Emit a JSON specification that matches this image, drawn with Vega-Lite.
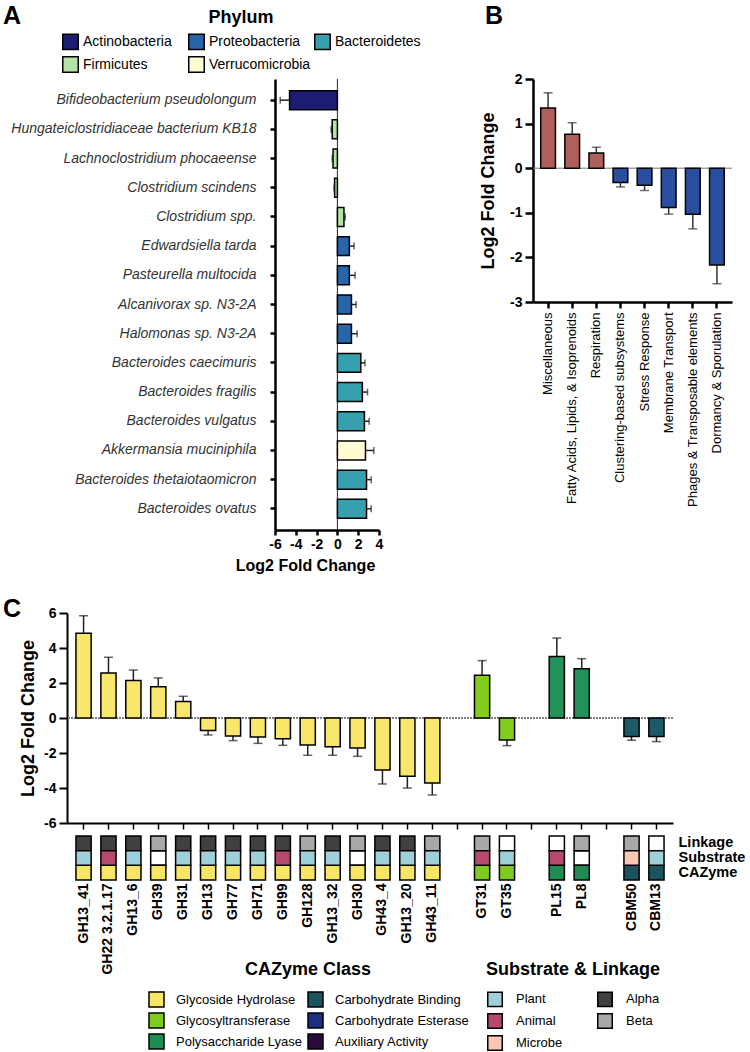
{
  "$schema": "https://vega.github.io/schema/vega-lite/v6.json",
  "padding": {"left": 3, "top": 4, "right": 0, "bottom": 0},
  "spacing": 0,
  "config": {
    "view": {"stroke": null},
    "font": "Liberation Sans",
    "axis": {"grid": false, "domainColor": "black", "tickColor": "black", "labelColor": "black", "titleColor": "black", "labelFont": "Liberation Sans", "titleFont": "Liberation Sans", "labelFlush": false, "labelOverlap": false, "labelBound": false},
    "legend": {"labelFont": "Liberation Sans", "titleFont": "Liberation Sans", "labelColor": "black", "titleColor": "black"},
    "title": {"font": "Liberation Sans", "color": "black"}
  },
  "resolve": {"scale": {"color": "independent", "fill": "independent"}, "legend": {"color": "independent", "fill": "independent"}},
  "vconcat": [
    {
      "bounds": "flush",
      "spacing": 154,
      "resolve": {"scale": {"color": "independent"}, "legend": {"color": "independent"}},
      "hconcat": [
        {
          "width": 54,
          "height": 518,
          "title": {"text": "A", "anchor": "start", "frame": "group", "fontSize": 25, "fontWeight": "bold", "dx": -64, "offset": 50},
          "data": {"values": [{}]},
          "mark": {"type": "point", "opacity": 0},
          "encoding": {}
        },
        {
          "width": 104,
          "height": 451,
          "data": {"values": [
            {"taxon": "Bifideobacterium pseudolongum", "phylum": "Actinobacteria", "lfc": -4.6, "hi": -5.5},
            {"taxon": "Hungateiclostridiaceae bacterium KB18", "phylum": "Firmicutes", "lfc": -0.5, "hi": -0.6},
            {"taxon": "Lachnoclostridium phocaeense", "phylum": "Firmicutes", "lfc": -0.42, "hi": -0.5},
            {"taxon": "Clostridium scindens", "phylum": "Firmicutes", "lfc": -0.27, "hi": -0.32},
            {"taxon": "Clostridium spp.", "phylum": "Firmicutes", "lfc": 0.63, "hi": 0.75},
            {"taxon": "Edwardsiella tarda", "phylum": "Proteobacteria", "lfc": 1.15, "hi": 1.6},
            {"taxon": "Pasteurella multocida", "phylum": "Proteobacteria", "lfc": 1.15, "hi": 1.7},
            {"taxon": "Alcanivorax sp. N3-2A", "phylum": "Proteobacteria", "lfc": 1.35, "hi": 1.8},
            {"taxon": "Halomonas sp. N3-2A", "phylum": "Proteobacteria", "lfc": 1.35, "hi": 1.9},
            {"taxon": "Bacteroides caecimuris", "phylum": "Bacteroidetes", "lfc": 2.25, "hi": 2.65},
            {"taxon": "Bacteroides fragilis", "phylum": "Bacteroidetes", "lfc": 2.4, "hi": 2.9},
            {"taxon": "Bacteroides vulgatus", "phylum": "Bacteroidetes", "lfc": 2.6, "hi": 3.05},
            {"taxon": "Akkermansia muciniphila", "phylum": "Verrucomicrobia", "lfc": 2.7, "hi": 3.5},
            {"taxon": "Bacteroides thetaiotaomicron", "phylum": "Bacteroidetes", "lfc": 2.8, "hi": 3.25},
            {"taxon": "Bacteroides ovatus", "phylum": "Bacteroidetes", "lfc": 2.8, "hi": 3.25}
          ]},
          "layer": [
            {
              "data": {"values": [{"ref": 0}]},
              "mark": {"type": "rule", "color": "#222", "strokeWidth": 1},
              "encoding": {"x": {"field": "ref", "type": "quantitative", "scale": {"domain": [-6, 4], "nice": false}, "axis": {"title": "Log2 Fold Change", "values": [-6, -4, -2, 0, 2, 4], "labelExpr": "toString(datum.value)", "labelFontSize": 14, "labelFontWeight": "bold", "titleFontSize": 16, "titleFontWeight": "bold", "tickSize": 5, "tickWidth": 2.5, "domainWidth": 2.5, "labelPadding": 2, "titlePadding": 6, "titleX": 30}}}
            },
            {
              "mark": {"type": "rule", "color": "#222", "strokeWidth": 1.5},
              "encoding": {
                "y": {"field": "taxon", "type": "nominal", "sort": null, "scale": {"paddingInner": 0.35, "paddingOuter": 0.4}, "axis": {"title": null, "labelFontSize": 14, "labelFontStyle": "italic", "labelColor": "#333", "labelPadding": 14, "tickSize": 5, "tickWidth": 2.5, "domainWidth": 2.5, "labelLimit": 0}},
                "x": {"field": "lfc", "type": "quantitative", "scale": {"domain": [-6, 4], "nice": false}, "axis": {"title": "Log2 Fold Change", "values": [-6, -4, -2, 0, 2, 4], "labelExpr": "toString(datum.value)", "labelFontSize": 14, "labelFontWeight": "bold", "titleFontSize": 16, "titleFontWeight": "bold", "tickSize": 5, "tickWidth": 2.5, "domainWidth": 2.5, "labelPadding": 2, "titlePadding": 6, "titleX": 30}},
                "x2": {"field": "hi"}
              }
            },
            {
              "mark": {"type": "bar", "stroke": "black", "strokeWidth": 1.5},
              "encoding": {
                "y": {"field": "taxon", "type": "nominal", "sort": null},
                "x": {"field": "lfc", "type": "quantitative", "scale": {"domain": [-6, 4], "nice": false}, "axis": {"title": "Log2 Fold Change", "values": [-6, -4, -2, 0, 2, 4], "labelExpr": "toString(datum.value)", "labelFontSize": 14, "labelFontWeight": "bold", "titleFontSize": 16, "titleFontWeight": "bold", "tickSize": 5, "tickWidth": 2.5, "domainWidth": 2.5, "labelPadding": 2, "titlePadding": 6, "titleX": 30}},
                "color": {"field": "phylum", "type": "nominal",
                  "scale": {"domain": ["Actinobacteria", "Firmicutes", "Proteobacteria", "Verrucomicrobia", "Bacteroidetes"], "range": ["#1c1c72", "#b5e3a5", "#2765ab", "#fdfcd2", "#36a0ae"]},
                  "legend": {"title": "Phylum", "orient": "none", "legendX": -213, "legendY": -70, "columns": 3, "gridAlign": "all", "columnPadding": 0, "rowPadding": 0, "titleFontSize": 18, "titleFontWeight": "bold", "titleAnchor": "middle", "titlePadding": 6, "labelFontSize": 14, "labelOffset": 4, "labelLimit": 0, "symbolType": "square", "symbolSize": 240, "symbolStrokeColor": "black", "symbolStrokeWidth": 1.5}}
              }
            },
            {
              "mark": {"type": "tick", "color": "#222", "thickness": 1.5, "size": 7},
              "encoding": {
                "y": {"field": "taxon", "type": "nominal", "sort": null},
                "x": {"field": "hi", "type": "quantitative", "scale": {"domain": [-6, 4], "nice": false}, "axis": {"title": "Log2 Fold Change", "values": [-6, -4, -2, 0, 2, 4], "labelExpr": "toString(datum.value)", "labelFontSize": 14, "labelFontWeight": "bold", "titleFontSize": 16, "titleFontWeight": "bold", "tickSize": 5, "tickWidth": 2.5, "domainWidth": 2.5, "labelPadding": 2, "titlePadding": 6, "titleX": 30}}
              }
            }
          ]
        },
        {
          "width": 199,
          "height": 223,
          "title": {"text": "B", "anchor": "start", "frame": "group", "fontSize": 25, "fontWeight": "bold", "dx": -48, "offset": 43},
          "data": {"values": [
            {"cat": "Miscellaneous", "dir": "up", "lfc": 1.35, "hi": 1.69},
            {"cat": "Fatty Acids, Lipids, & Isoprenoids", "dir": "up", "lfc": 0.76, "hi": 1.02},
            {"cat": "Respiration", "dir": "up", "lfc": 0.34, "hi": 0.47},
            {"cat": "Clustering-based subsystems", "dir": "down", "lfc": -0.32, "hi": -0.42},
            {"cat": "Stress Response", "dir": "down", "lfc": -0.38, "hi": -0.5},
            {"cat": "Membrane Transport", "dir": "down", "lfc": -0.88, "hi": -1.03},
            {"cat": "Phages & Transposable elements", "dir": "down", "lfc": -1.03, "hi": -1.36},
            {"cat": "Dormancy & Sporulation", "dir": "down", "lfc": -2.17, "hi": -2.59}
          ]},
          "layer": [
            {
              "data": {"values": [{"ref": 0}]},
              "mark": {"type": "rule", "color": "#777", "strokeWidth": 1},
              "encoding": {"y": {"field": "ref", "type": "quantitative", "scale": {"domain": [-3, 2], "nice": false}, "axis": {"title": "Log2 Fold Change", "values": [-3, -2, -1, 0, 1, 2], "labelExpr": "toString(datum.value)", "labelFontSize": 14, "labelFontWeight": "bold", "titleFontSize": 18, "titleFontWeight": "bold", "tickSize": 8, "tickWidth": 2.5, "domainWidth": 2.5, "labelPadding": 3, "titlePadding": 12}}}
            },
            {
              "mark": {"type": "rule", "color": "#333", "strokeWidth": 1.5},
              "encoding": {
                "x": {"field": "cat", "type": "nominal", "sort": null, "scale": {"paddingInner": 0.39, "paddingOuter": 0.32}, "axis": {"title": null, "labelAngle": -90, "labelAlign": "right", "labelBaseline": "middle", "labelFontSize": 13, "labelPadding": 4, "tickSize": 6, "tickWidth": 2.5, "domainWidth": 2.5, "labelLimit": 0}},
                "y": {"field": "lfc", "type": "quantitative", "scale": {"domain": [-3, 2], "nice": false}, "axis": {"title": "Log2 Fold Change", "values": [-3, -2, -1, 0, 1, 2], "labelExpr": "toString(datum.value)", "labelFontSize": 14, "labelFontWeight": "bold", "titleFontSize": 18, "titleFontWeight": "bold", "tickSize": 8, "tickWidth": 2.5, "domainWidth": 2.5, "labelPadding": 3, "titlePadding": 12}},
                "y2": {"field": "hi"}
              }
            },
            {
              "mark": {"type": "bar", "stroke": "black", "strokeWidth": 1.5},
              "encoding": {
                "x": {"field": "cat", "type": "nominal", "sort": null},
                "y": {"field": "lfc", "type": "quantitative", "scale": {"domain": [-3, 2], "nice": false}, "axis": {"title": "Log2 Fold Change", "values": [-3, -2, -1, 0, 1, 2], "labelExpr": "toString(datum.value)", "labelFontSize": 14, "labelFontWeight": "bold", "titleFontSize": 18, "titleFontWeight": "bold", "tickSize": 8, "tickWidth": 2.5, "domainWidth": 2.5, "labelPadding": 3, "titlePadding": 12}},
                "color": {"field": "dir", "type": "nominal", "scale": {"domain": ["up", "down"], "range": ["#b0605a", "#2b4fa0"]}, "legend": null}
              }
            },
            {
              "mark": {"type": "tick", "color": "#333", "thickness": 1.5, "size": 9},
              "encoding": {
                "x": {"field": "cat", "type": "nominal", "sort": null},
                "y": {"field": "hi", "type": "quantitative", "scale": {"domain": [-3, 2], "nice": false}, "axis": {"title": "Log2 Fold Change", "values": [-3, -2, -1, 0, 1, 2], "labelExpr": "toString(datum.value)", "labelFontSize": 14, "labelFontWeight": "bold", "titleFontSize": 18, "titleFontWeight": "bold", "tickSize": 8, "tickWidth": 2.5, "domainWidth": 2.5, "labelPadding": 3, "titlePadding": 12}}
              }
            }
          ]
        }
      ]
    },
    {
      "bounds": "flush",
      "spacing": 13,
      "resolve": {"scale": {"color": "independent", "fill": "independent"}, "legend": {"color": "independent", "fill": "independent"}},
      "vconcat": [
        {
          "width": 606,
          "height": 210,
          "title": {"text": "C", "anchor": "start", "frame": "group", "fontSize": 25, "fontWeight": "bold", "dx": -64, "offset": 0, "dy": 16},
          "data": {"values": [
            {"gene": "GH13_41", "cls": "Glycoside Hydrolase", "lfc": 4.84, "hi": 5.85},
            {"gene": "GH22 3.2.1.17", "cls": "Glycoside Hydrolase", "lfc": 2.57, "hi": 3.47},
            {"gene": "GH13_6", "cls": "Glycoside Hydrolase", "lfc": 2.14, "hi": 2.74},
            {"gene": "GH39", "cls": "Glycoside Hydrolase", "lfc": 1.79, "hi": 2.29},
            {"gene": "GH31", "cls": "Glycoside Hydrolase", "lfc": 0.94, "hi": 1.24},
            {"gene": "GH13", "cls": "Glycoside Hydrolase", "lfc": -0.72, "hi": -0.97},
            {"gene": "GH77", "cls": "Glycoside Hydrolase", "lfc": -1.03, "hi": -1.29},
            {"gene": "GH71", "cls": "Glycoside Hydrolase", "lfc": -1.09, "hi": -1.45},
            {"gene": "GH99", "cls": "Glycoside Hydrolase", "lfc": -1.18, "hi": -1.56},
            {"gene": "GH128", "cls": "Glycoside Hydrolase", "lfc": -1.54, "hi": -2.13},
            {"gene": "GH13_32", "cls": "Glycoside Hydrolase", "lfc": -1.64, "hi": -2.13},
            {"gene": "GH30", "cls": "Glycoside Hydrolase", "lfc": -1.71, "hi": -2.19},
            {"gene": "GH43_4", "cls": "Glycoside Hydrolase", "lfc": -2.97, "hi": -3.77},
            {"gene": "GH13_20", "cls": "Glycoside Hydrolase", "lfc": -3.33, "hi": -4.0},
            {"gene": "GH43_11", "cls": "Glycoside Hydrolase", "lfc": -3.71, "hi": -4.4},
            {"gene": "GT31", "cls": "Glycosyltransferase", "lfc": 2.44, "hi": 3.28},
            {"gene": "GT35", "cls": "Glycosyltransferase", "lfc": -1.26, "hi": -1.58},
            {"gene": "PL15", "cls": "Polysaccharide Lyase", "lfc": 3.51, "hi": 4.57},
            {"gene": "PL8", "cls": "Polysaccharide Lyase", "lfc": 2.82, "hi": 3.39},
            {"gene": "CBM50", "cls": "Carbohydrate Binding", "lfc": -1.06, "hi": -1.27},
            {"gene": "CBM13", "cls": "Carbohydrate Binding", "lfc": -1.06, "hi": -1.35}
          ]},
          "layer": [
            {
              "data": {"values": [{"ref": 0}]},
              "mark": {"type": "rule", "color": "#808080", "strokeWidth": 2, "strokeDash": [2, 1]},
              "encoding": {"y": {"field": "ref", "type": "quantitative", "scale": {"domain": [-6, 6], "nice": false}, "axis": {"title": "Log2 Fold Change", "values": [-6, -4, -2, 0, 2, 4, 6], "labelExpr": "toString(datum.value)", "labelFontSize": 14, "labelFontWeight": "bold", "titleFontSize": 18, "titleFontWeight": "bold", "tickSize": 8, "tickWidth": 2, "domainWidth": 2, "labelPadding": 3, "titlePadding": 6}}}
            },
            {
              "mark": {"type": "rule", "color": "#222", "strokeWidth": 1.5},
              "encoding": {
                "x": {"field": "gene", "type": "nominal", "scale": {"domain": ["GH13_41", "GH22 3.2.1.17", "GH13_6", "GH39", "GH31", "GH13", "GH77", "GH71", "GH99", "GH128", "GH13_32", "GH30", "GH43_4", "GH13_20", "GH43_11", " ", "GT31", "GT35", "  ", "PL15", "PL8", "   ", "CBM50", "CBM13"], "paddingInner": 0.39, "paddingOuter": 0.36}, "axis": {"title": null, "labels": false, "tickSize": 6, "tickWidth": 1.5, "domainWidth": 2}},
                "y": {"field": "lfc", "type": "quantitative", "scale": {"domain": [-6, 6], "nice": false}, "axis": {"title": "Log2 Fold Change", "values": [-6, -4, -2, 0, 2, 4, 6], "labelExpr": "toString(datum.value)", "labelFontSize": 14, "labelFontWeight": "bold", "titleFontSize": 18, "titleFontWeight": "bold", "tickSize": 8, "tickWidth": 2, "domainWidth": 2, "labelPadding": 3, "titlePadding": 6}},
                "y2": {"field": "hi"}
              }
            },
            {
              "mark": {"type": "bar", "stroke": "black", "strokeWidth": 1.5},
              "encoding": {
                "x": {"field": "gene", "type": "nominal"},
                "y": {"field": "lfc", "type": "quantitative", "scale": {"domain": [-6, 6], "nice": false}, "axis": {"title": "Log2 Fold Change", "values": [-6, -4, -2, 0, 2, 4, 6], "labelExpr": "toString(datum.value)", "labelFontSize": 14, "labelFontWeight": "bold", "titleFontSize": 18, "titleFontWeight": "bold", "tickSize": 8, "tickWidth": 2, "domainWidth": 2, "labelPadding": 3, "titlePadding": 6}},
                "color": {"field": "cls", "type": "nominal", "scale": {"domain": ["Glycoside Hydrolase", "Glycosyltransferase", "Polysaccharide Lyase", "Carbohydrate Binding"], "range": ["#f9e76b", "#84cc1d", "#21925a", "#1d5a68"]}, "legend": null}
              }
            },
            {
              "mark": {"type": "tick", "color": "#222", "thickness": 1.5, "size": 9},
              "encoding": {
                "x": {"field": "gene", "type": "nominal"},
                "y": {"field": "hi", "type": "quantitative", "scale": {"domain": [-6, 6], "nice": false}, "axis": {"title": "Log2 Fold Change", "values": [-6, -4, -2, 0, 2, 4, 6], "labelExpr": "toString(datum.value)", "labelFontSize": 14, "labelFontWeight": "bold", "titleFontSize": 18, "titleFontWeight": "bold", "tickSize": 8, "tickWidth": 2, "domainWidth": 2, "labelPadding": 3, "titlePadding": 6}}
              }
            }
          ]
        },
        {
          "width": 606,
          "height": 44,
          "data": {"values": [
            {"gene": "GH13_41", "Linkage": "Alpha", "Substrate": "Plant", "CAZyme": "Glycoside Hydrolase"},
            {"gene": "GH22 3.2.1.17", "Linkage": "Alpha", "Substrate": "Animal", "CAZyme": "Glycoside Hydrolase"},
            {"gene": "GH13_6", "Linkage": "Alpha", "Substrate": "Plant", "CAZyme": "Glycoside Hydrolase"},
            {"gene": "GH39", "Linkage": "Beta", "Substrate": "None", "CAZyme": "Glycoside Hydrolase"},
            {"gene": "GH31", "Linkage": "Alpha", "Substrate": "Plant", "CAZyme": "Glycoside Hydrolase"},
            {"gene": "GH13", "Linkage": "Alpha", "Substrate": "Plant", "CAZyme": "Glycoside Hydrolase"},
            {"gene": "GH77", "Linkage": "Alpha", "Substrate": "Plant", "CAZyme": "Glycoside Hydrolase"},
            {"gene": "GH71", "Linkage": "Alpha", "Substrate": "Plant", "CAZyme": "Glycoside Hydrolase"},
            {"gene": "GH99", "Linkage": "Alpha", "Substrate": "Animal", "CAZyme": "Glycoside Hydrolase"},
            {"gene": "GH128", "Linkage": "Beta", "Substrate": "Plant", "CAZyme": "Glycoside Hydrolase"},
            {"gene": "GH13_32", "Linkage": "Alpha", "Substrate": "Plant", "CAZyme": "Glycoside Hydrolase"},
            {"gene": "GH30", "Linkage": "Beta", "Substrate": "None", "CAZyme": "Glycoside Hydrolase"},
            {"gene": "GH43_4", "Linkage": "Alpha", "Substrate": "Plant", "CAZyme": "Glycoside Hydrolase"},
            {"gene": "GH13_20", "Linkage": "Alpha", "Substrate": "Plant", "CAZyme": "Glycoside Hydrolase"},
            {"gene": "GH43_11", "Linkage": "Beta", "Substrate": "Plant", "CAZyme": "Glycoside Hydrolase"},
            {"gene": "GT31", "Linkage": "Beta", "Substrate": "Animal", "CAZyme": "Glycosyltransferase"},
            {"gene": "GT35", "Linkage": "None", "Substrate": "Plant", "CAZyme": "Glycosyltransferase"},
            {"gene": "PL15", "Linkage": "None", "Substrate": "Animal", "CAZyme": "Polysaccharide Lyase"},
            {"gene": "PL8", "Linkage": "Beta", "Substrate": "None", "CAZyme": "Polysaccharide Lyase"},
            {"gene": "CBM50", "Linkage": "Beta", "Substrate": "Microbe", "CAZyme": "Carbohydrate Binding"},
            {"gene": "CBM13", "Linkage": "None", "Substrate": "Plant", "CAZyme": "Carbohydrate Binding"}
          ]},
          "transform": [{"fold": ["Linkage", "Substrate", "CAZyme"], "as": ["track", "cat"]}],
          "encoding": {
            "x": {"field": "gene", "type": "nominal", "scale": {"domain": ["GH13_41", "GH22 3.2.1.17", "GH13_6", "GH39", "GH31", "GH13", "GH77", "GH71", "GH99", "GH128", "GH13_32", "GH30", "GH43_4", "GH13_20", "GH43_11", " ", "GT31", "GT35", "  ", "PL15", "PL8", "   ", "CBM50", "CBM13"], "paddingInner": 0.39, "paddingOuter": 0.36}, "axis": {"title": null, "labelAngle": -90, "labelAlign": "right", "labelBaseline": "middle", "labelFontSize": 14, "labelFontWeight": "bold", "ticks": false, "domain": false, "labelPadding": 3, "labelLimit": 0}},
            "y": {"field": "track", "type": "nominal", "scale": {"domain": ["Linkage", "Substrate", "CAZyme"], "paddingInner": 0, "paddingOuter": 0}, "axis": {"orient": "right", "title": null, "ticks": false, "domain": false, "labelFontSize": 14.5, "labelFontWeight": "bold", "labelPadding": 5, "labelLimit": 0}}
          },
          "layer": [
            {
              "transform": [{"filter": "datum.cat === 'None'"}],
              "mark": {"type": "rect", "fill": "white", "stroke": "black", "strokeWidth": 1.5}
            },
            {
              "transform": [{"filter": "datum.track === 'CAZyme'"}],
              "mark": {"type": "rect", "stroke": "black", "strokeWidth": 1.5},
              "encoding": {
                "fill": {"field": "cat", "type": "nominal",
                  "scale": {"domain": ["Glycoside Hydrolase", "Glycosyltransferase", "Polysaccharide Lyase", "Carbohydrate Binding", "Carbohydrate Esterase", "Auxiliary Activity"], "range": ["#f8e465", "#7fcb22", "#208b52", "#1b5360", "#1c2f80", "#2b0a3d"]},
                  "legend": {"title": "CAZyme Class", "orient": "none", "legendX": 81, "legendY": 125, "columns": 2, "columnPadding": 3, "rowPadding": 0, "titleFontSize": 18, "titleFontWeight": "bold", "titleAnchor": "middle", "titlePadding": 12, "labelFontSize": 13, "labelOffset": 11, "labelLimit": 0, "symbolType": "square", "symbolSize": 225, "symbolStrokeColor": "black", "symbolStrokeWidth": 1.5}}
              }
            },
            {
              "transform": [{"filter": "datum.track !== 'CAZyme' && datum.cat !== 'None'"}],
              "mark": {"type": "rect", "stroke": "black", "strokeWidth": 1.5},
              "encoding": {
                "color": {"field": "cat", "type": "nominal",
                  "scale": {"domain": ["Plant", "Animal", "Microbe", "Alpha", "Beta"], "range": ["#9fd0d9", "#b54a6c", "#f9c7b2", "#404040", "#a8a8a8"]},
                  "legend": {"title": "Substrate & Linkage", "orient": "none", "legendX": 419, "legendY": 125, "columns": 2, "columnPadding": 31, "rowPadding": 0, "titleFontSize": 18, "titleFontWeight": "bold", "titleAnchor": "middle", "titlePadding": 12, "labelFontSize": 13, "labelOffset": 13, "labelLimit": 0, "symbolType": "square", "symbolSize": 210, "symbolStrokeColor": "black", "symbolStrokeWidth": 1.5}}
              }
            }
          ]
        }
      ]
    }
  ]
}
